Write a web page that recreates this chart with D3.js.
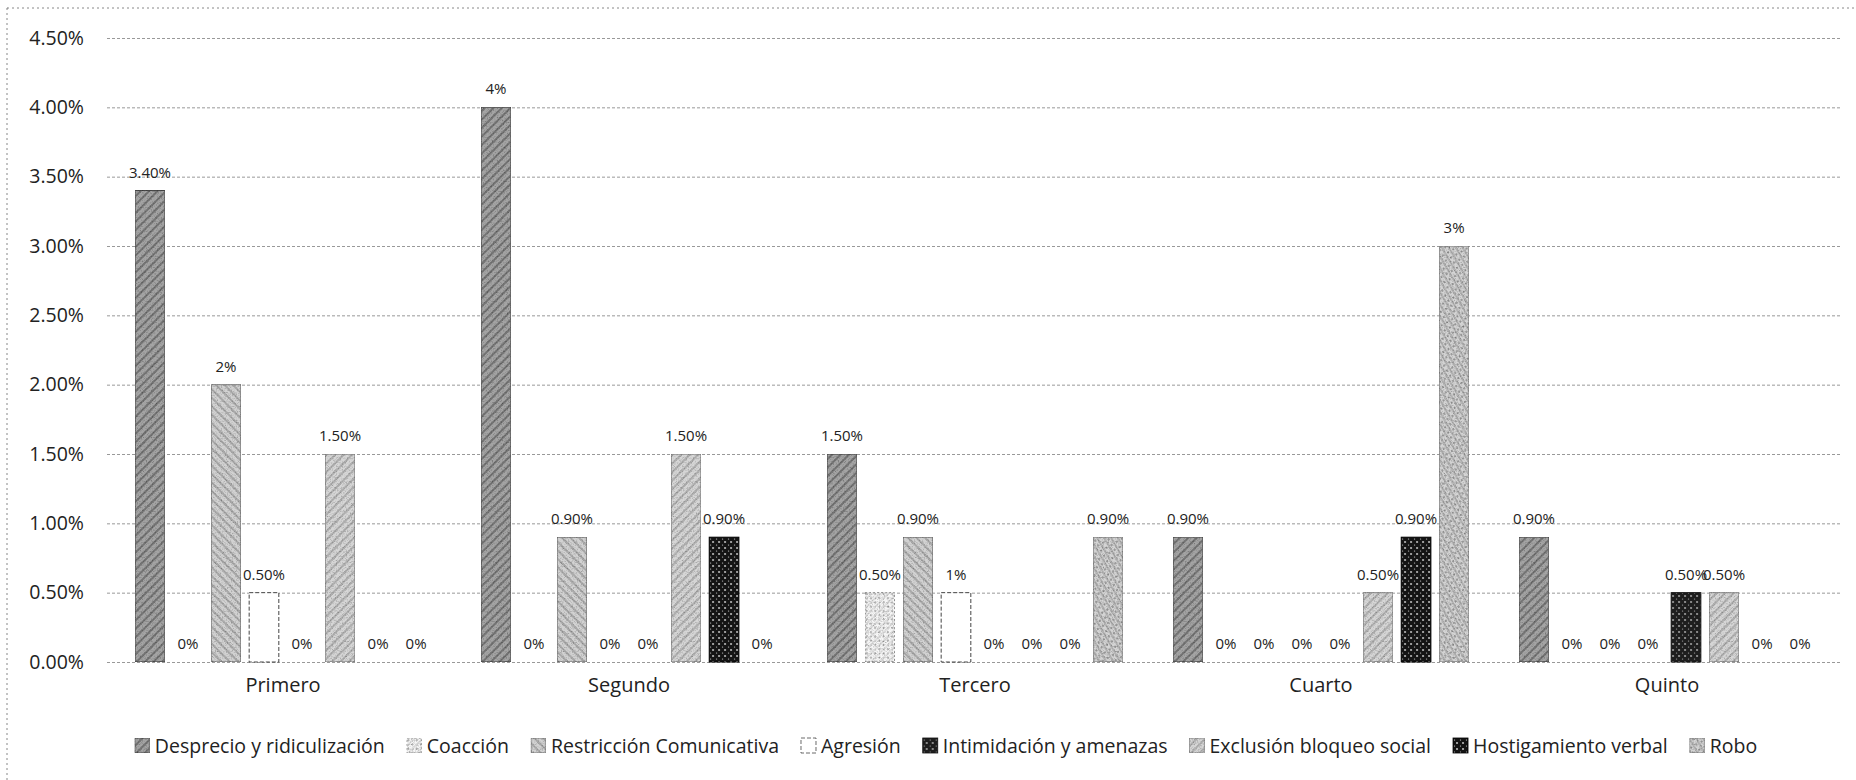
<!DOCTYPE html>
<html>
<head>
<meta charset="utf-8">
<script src="https://cdn.jsdelivr.net/npm/d3@7"></script>
<style>
  body { margin: 0; background: #fff; }
  text { font-family: "Open Sans", "Liberation Sans", sans-serif; fill: #222; }
</style>
</head>
<body>
<script>
// grados
var grados = ["Primero", "Segundo", "Tercero", "Cuarto", "Quinto"];
// tipos de acoso (series)
var tipos = ["Desprecio y ridiculización", "Coacción", "Restricción Comunicativa", "Agresión",
             "Intimidación y amenazas", "Exclusión bloqueo social", "Hostigamiento verbal", "Robo"];
// valores en % por tipo, en el orden de grados
var desprecio     = [3.4, 4.0, 1.5, 0.9, 0.9];
var coaccion      = [0, 0, 0.5, 0, 0];
var restriccion   = [2.0, 0.9, 0.9, 0, 0];
var agresion      = [0.5, 0, 0.5, 0, 0];
var intimidacion  = [0, 0, 0, 0, 0.5];
var exclusion     = [1.5, 1.5, 0, 0.5, 0.5];
var hostigamiento = [0, 0.9, 0, 0.9, 0];
var robo          = [0, 0, 0.9, 3.0, 0];
// etiquetas tal como salen en el grafico
var lblDesprecio     = ["3.40%", "4%", "1.50%", "0.90%", "0.90%"];
var lblCoaccion      = ["0%", "0%", "0.50%", "0%", "0%"];
var lblRestriccion   = ["2%", "0.90%", "0.90%", "0%", "0%"];
var lblAgresion      = ["0.50%", "0%", "1%", "0%", "0%"];
var lblIntimidacion  = ["0%", "0%", "0%", "0%", "0.50%"];
var lblExclusion     = ["1.50%", "1.50%", "0%", "0.50%", "0.50%"];
var lblHostigamiento = ["0%", "0.90%", "0%", "0.90%", "0%"];
var lblRobo          = ["0%", "0%", "0.90%", "3%", "0%"];
// ticks eje y
var yTicks = [0, 0.5, 1, 1.5, 2, 2.5, 3, 3.5, 4, 4.5];

var valores = [desprecio, coaccion, restriccion, agresion, intimidacion, exclusion, hostigamiento, robo];
var etiquetas = [lblDesprecio, lblCoaccion, lblRestriccion, lblAgresion, lblIntimidacion, lblExclusion, lblHostigamiento, lblRobo];

const W = 1856, H = 780;
const svg = d3.select("body").append("svg").attr("width", W).attr("height", H);
const defs = svg.append("defs");

// grano tipo fotocopia
const grain = defs.append("filter").attr("id", "grain")
  .attr("x", 0).attr("y", 0).attr("width", 1).attr("height", 1);
grain.append("feTurbulence").attr("type", "fractalNoise").attr("baseFrequency", 0.8)
  .attr("numOctaves", 2).attr("seed", 4).attr("result", "noise");
grain.append("feColorMatrix").attr("in", "noise").attr("type", "saturate").attr("values", 0).attr("result", "gray");
const ct = grain.append("feComponentTransfer").attr("in", "gray").attr("result", "gray2");
["feFuncR", "feFuncG", "feFuncB"].forEach(f => ct.append(f).attr("type", "linear").attr("slope", 1.6).attr("intercept", 0.15));
ct.append("feFuncA").attr("type", "table").attr("tableValues", "1 1");
grain.append("feBlend").attr("in", "SourceGraphic").attr("in2", "gray2").attr("mode", "multiply").attr("result", "b");
grain.append("feComposite").attr("in", "b").attr("in2", "SourceGraphic").attr("operator", "in");

// patrones por serie
var estilos = [
  {base: "#a4a4a4", line: "#606060", ang: 45,  dots: null,   stroke: "#3a3a3a", dash: null,  grain: true},
  {base: "#f6f6f6", line: "#d8d8d8", ang: 45,  dots: "#999", stroke: "#777",    dash: "2,2", grain: true},
  {base: "#d2d2d2", line: "#999999", ang: -45, dots: null,   stroke: "#666",    dash: null,  grain: true},
  {base: "#ffffff", line: null,      ang: 0,   dots: null,   stroke: "#444",    dash: "4,2", grain: false},
  {base: "#1e1e1e", line: null,      ang: 0,   dots: "#bbb", stroke: "#111",    dash: null,  grain: false},
  {base: "#d6d6d6", line: "#a0a0a0", ang: 45,  dots: null,   stroke: "#777",    dash: null,  grain: true},
  {base: "#141414", line: null,      ang: 0,   dots: "#ddd", stroke: "#000",    dash: null,  grain: false},
  {base: "#d4d4d4", line: "#a8a8a8", ang: -30, dots: "#808080", stroke: "#777", dash: null,  grain: true}
];
estilos.forEach(function (e, i) {
  const p = defs.append("pattern").attr("id", "pat" + i).attr("patternUnits", "userSpaceOnUse")
    .attr("width", 6).attr("height", 6).attr("patternTransform", "rotate(" + e.ang + ")");
  p.append("rect").attr("width", 6).attr("height", 6).attr("fill", e.base);
  if (e.line) p.append("line").attr("x1", 1).attr("y1", 0).attr("x2", 1).attr("y2", 6)
    .attr("stroke", e.line).attr("stroke-width", 1.4);
  if (e.dots) {
    p.append("circle").attr("cx", 4).attr("cy", 2).attr("r", 0.9).attr("fill", e.dots);
    p.append("circle").attr("cx", 1.5).attr("cy", 5).attr("r", 0.6).attr("fill", e.dots);
  }
});

// marco punteado
svg.append("rect").attr("x", 7).attr("y", 8).attr("width", W + 20).attr("height", H + 20)
  .attr("fill", "none").attr("stroke", "#888").attr("stroke-dasharray", "2,3");

const plotL = 110, plotR = 1840;
const x0 = d3.scaleBand().domain(grados).range([plotL, plotR]).paddingInner(0.145).paddingOuter(0.0725);
const x1 = d3.scaleBand().domain(d3.range(tipos.length)).range([0, x0.bandwidth()]).paddingInner(0.22);
const y = d3.scaleLinear().domain([0, 4.5]).range([662, 38]);

// rejilla
svg.append("g").selectAll("line").data(yTicks).join("line")
  .attr("x1", plotL - 3).attr("x2", plotR)
  .attr("y1", d => y(d) + 0.5).attr("y2", d => y(d) + 0.5)
  .attr("stroke", "#999").attr("stroke-width", 1).attr("stroke-dasharray", "3,2");

// eje y
const yAxis = d3.axisLeft(y).tickValues(yTicks).tickFormat(d => d3.format(".2%")(d / 100)).tickSize(0).tickPadding(26);
svg.append("g").attr("transform", `translate(${plotL},0)`).call(yAxis)
  .call(g => g.select(".domain").remove())
  .selectAll("text").style("font-size", "19.5px").attr("fill", "#222");

// eje x
const xAxis = d3.axisBottom(x0).tickSize(0).tickPadding(16);
svg.append("g").attr("transform", `translate(0,${y(0)})`).call(xAxis)
  .call(g => g.select(".domain").remove())
  .selectAll("text").style("font-size", "20px").attr("fill", "#222");

// barras
grados.forEach(function (g, gi) {
  const grp = svg.append("g").attr("transform", `translate(${x0(g)},0)`);
  valores.forEach(function (serie, si) {
    const v = serie[gi];
    const e = estilos[si];
    if (v > 0) {
      grp.append("rect")
        .attr("x", x1(si)).attr("y", y(v))
        .attr("width", x1.bandwidth()).attr("height", y(0) - y(v))
        .attr("fill", "url(#pat" + si + ")")
        .attr("filter", e.grain ? "url(#grain)" : null)
        .attr("stroke", e.stroke).attr("stroke-width", 1)
        .attr("stroke-dasharray", e.dash);
    }
    grp.append("text")
      .attr("x", x1(si) + x1.bandwidth() / 2).attr("y", y(v) - 13)
      .attr("text-anchor", "middle").style("font-size", "15px")
      .text(etiquetas[si][gi]);
  });
});

// leyenda
const leg = svg.append("g");
let lx = 0;
tipos.forEach(function (t, i) {
  const it = leg.append("g");
  it.append("rect").attr("x", 0).attr("y", -15).attr("width", 15).attr("height", 15)
    .attr("fill", "url(#pat" + i + ")").attr("filter", estilos[i].grain ? "url(#grain)" : null)
    .attr("stroke", estilos[i].stroke).attr("stroke-width", 0.8).attr("stroke-dasharray", estilos[i].dash);
  const tx = it.append("text").attr("x", 20).attr("y", 0).style("font-size", "19.5px").text(t);
  const w = 20 + tx.node().getComputedTextLength();
  it.attr("transform", `translate(${lx},0)`);
  lx += w + 22;
});
const total = lx - 22;
leg.attr("transform", `translate(${946 - total / 2},753)`);
</script>
</body>
</html>
